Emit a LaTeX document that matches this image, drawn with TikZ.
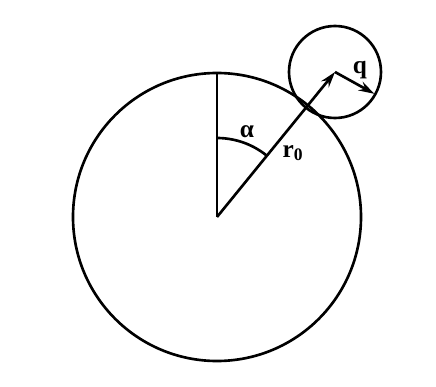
\documentclass[tikz,border=0pt]{standalone}
\usepackage{fontspec}
\setmainfont{Liberation Serif}
\usetikzlibrary{arrows.meta,calc}

\begin{document}
\begin{tikzpicture}[x=0.02cm, y=0.02cm, line width=1.5pt, font=\Large\bfseries,
    vec/.style={-{Stealth[length=9pt,width=5.5pt,inset=3pt]}}]
  \useasboundingbox (0,0) rectangle (436,386);
  % centres
  \coordinate (O) at (217,169);
  \coordinate (C) at (335,314);
  \coordinate (top) at (217,313);
  \coordinate (qend) at ($(C)+(-29:45)$);
  % spheres
  \draw (O) circle[radius=144];
  \draw (C) circle[radius=46];
  % vectors
  \draw (O) -- (top);
  \draw[vec] (O) -- (C);
  \draw[vec] (C) -- (qend);
  \draw (O) ++(90:79) arc[start angle=90, end angle=50.9, radius=79];
  % labels
  \node (alpha) at (247,254) {α};
  \node (rzero) at (293,233) {r\textsubscript{0}};
  \node (q) at (360,316) {q};
\end{tikzpicture}
\end{document}
